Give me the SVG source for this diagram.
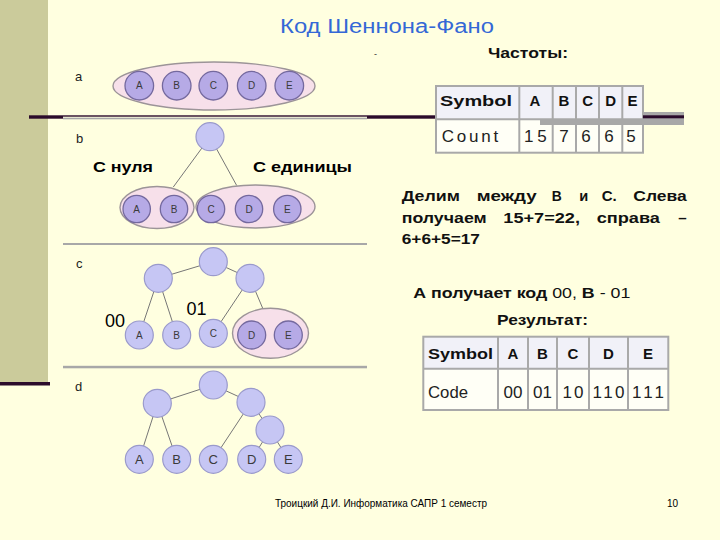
<svg xmlns="http://www.w3.org/2000/svg" width="720" height="540" viewBox="0 0 720 540">
<defs>
<style>
.bg{fill:#ffffe0}
.strip{fill:#cbcb9b}
.dark{fill:#2b0b2b}
.sep{fill:#a8a8a8}
.pink{fill:#f7e0ea;stroke:#9c9498;stroke-width:1.4}
.pnode{fill:#b6aae6;stroke:#74699e;stroke-width:1.3}
.lnode{fill:#c6c6f4;stroke:#9a9acb;stroke-width:1.2}
.edge{stroke:#777;stroke-width:1;fill:none}
.nl{font-family:"Liberation Sans",Arial,sans-serif;font-size:10px;fill:#3a3a3a;text-anchor:middle}
.nlb{font-family:"Liberation Sans",Arial,sans-serif;font-size:13px;fill:#3a3a3a;text-anchor:middle}
.sec{font-family:"Liberation Sans",Arial,sans-serif;font-size:13px;fill:#222}
.lbl{font-family:"Liberation Sans",Arial,sans-serif;font-size:15px;font-weight:bold;fill:#000}
.num{font-family:"Liberation Sans",Arial,sans-serif;font-size:18px;fill:#000}
.txt{font-family:"Liberation Sans",Arial,sans-serif;font-size:15px;font-weight:bold;fill:#111}
.th{font-family:"Liberation Sans",Arial,sans-serif;font-size:15px;font-weight:bold;fill:#111}
.td{font-family:"Liberation Sans",Arial,sans-serif;font-size:17px;fill:#222}
.cell{stroke:#a9a9a9;stroke-width:2}
.foot{font-family:"Liberation Sans",Arial,sans-serif;font-size:10px;fill:#000}
</style>
</defs>
<rect class="bg" x="0" y="0" width="720" height="540"/>
<rect class="strip" x="0" y="0" width="48" height="383"/>
<rect class="dark" x="0" y="382" width="50" height="3.5"/>

<!-- separators -->
<rect class="dark" x="29" y="115.3" width="407" height="3.4"/>
<rect class="bg" x="63" y="116.7" width="304" height="3"/>
<rect class="sep" x="63" y="117.7" width="304" height="1.6"/>
<rect class="sep" x="63" y="243" width="304" height="2"/>
<rect class="sep" x="63" y="365.8" width="304" height="2.5"/>

<!-- title -->
<text x="280" y="33" font-family="Liberation Sans, Arial, sans-serif" font-size="20" fill="#3468d6" textLength="214" lengthAdjust="spacingAndGlyphs">Код Шеннона-Фано</text>
<text x="374" y="57" font-family="Liberation Sans, Arial, sans-serif" font-size="9" fill="#333">-</text>

<!-- section labels -->
<text class="sec" x="75" y="81">a</text>
<text class="sec" x="76" y="143">b</text>
<text class="sec" x="76" y="268">c</text>
<text class="sec" x="75" y="391">d</text>

<!-- connectors -->
<g id="connectors">
<line class="edge" x1="210" y1="137" x2="173.3" y2="187"/>
<line class="edge" x1="210" y1="137" x2="236.7" y2="185.5"/>
<line class="edge" x1="213.3" y1="261.7" x2="158.3" y2="278.3"/>
<line class="edge" x1="213.3" y1="261.7" x2="250" y2="278.3"/>
<line class="edge" x1="158.3" y1="278.3" x2="139.3" y2="335"/>
<line class="edge" x1="158.3" y1="278.3" x2="176.7" y2="335"/>
<line class="edge" x1="250" y1="278.3" x2="213.3" y2="333.3"/>
<line class="edge" x1="250" y1="278.3" x2="263" y2="309"/>
<line class="edge" x1="213.3" y1="385" x2="157.3" y2="403.3"/>
<line class="edge" x1="213.3" y1="385" x2="251" y2="402.3"/>
<line class="edge" x1="157.3" y1="403.3" x2="139.3" y2="459.3"/>
<line class="edge" x1="157.3" y1="403.3" x2="176.7" y2="459.3"/>
<line class="edge" x1="251" y1="402.3" x2="213.3" y2="459.3"/>
<line class="edge" x1="251" y1="402.3" x2="270" y2="430"/>
<line class="edge" x1="270" y1="430" x2="251.7" y2="459.3"/>
<line class="edge" x1="270" y1="430" x2="288.3" y2="459.3"/>
</g>

<!-- section a -->
<g id="a-group"><ellipse class="pink" cx="214" cy="86" rx="101" ry="24"/></g>
<g id="a-A"><circle class="pnode" cx="139.3" cy="85.7" r="14.3"/><text class="nl" x="139.3" y="89.3">A</text></g>
<g id="a-B"><circle class="pnode" cx="176.7" cy="85.7" r="14.3"/><text class="nl" x="176.7" y="89.3">B</text></g>
<g id="a-C"><circle class="pnode" cx="213.3" cy="85.7" r="14.3"/><text class="nl" x="213.3" y="89.3">C</text></g>
<g id="a-D"><circle class="pnode" cx="251.7" cy="85.7" r="14.3"/><text class="nl" x="251.7" y="89.3">D</text></g>
<g id="a-E"><circle class="pnode" cx="289.3" cy="85.7" r="14.3"/><text class="nl" x="289.3" y="89.3">E</text></g>

<!-- section b -->
<g id="b-root"><circle class="lnode" cx="210" cy="136.7" r="14"/></g>
<g id="b-left"><ellipse class="pink" cx="157" cy="207.5" rx="37" ry="21"/></g>
<g id="b-right"><ellipse class="pink" cx="255.5" cy="206.5" rx="59.5" ry="21.5"/></g>
<g id="b-A"><circle class="pnode" cx="136.7" cy="209" r="13.7"/><text class="nl" x="136.7" y="212.6">A</text></g>
<g id="b-B"><circle class="pnode" cx="174" cy="209" r="13.7"/><text class="nl" x="174" y="212.6">B</text></g>
<g id="b-C"><circle class="pnode" cx="211" cy="209" r="13.7"/><text class="nl" x="211" y="212.6">C</text></g>
<g id="b-D"><circle class="pnode" cx="249" cy="209" r="13.7"/><text class="nl" x="249" y="212.6">D</text></g>
<g id="b-E"><circle class="pnode" cx="287.3" cy="209" r="13.7"/><text class="nl" x="287.3" y="212.6">E</text></g>
<text class="lbl" x="93" y="172" textLength="60" lengthAdjust="spacingAndGlyphs">С нуля</text>
<text class="lbl" x="253" y="172" textLength="99" lengthAdjust="spacingAndGlyphs">С единицы</text>

<!-- section c -->
<g id="c-root"><circle class="lnode" cx="213.3" cy="261.7" r="14"/></g>
<g id="c-left"><circle class="lnode" cx="158.3" cy="278.3" r="14"/></g>
<g id="c-right"><circle class="lnode" cx="250" cy="278.3" r="14"/></g>
<g id="c-DE"><ellipse class="pink" cx="270.5" cy="333.3" rx="38" ry="25"/></g>
<g id="c-A"><circle class="lnode" cx="139.3" cy="335" r="14"/><text class="nl" x="139.3" y="338.6">A</text></g>
<g id="c-B"><circle class="lnode" cx="176.7" cy="335" r="14"/><text class="nl" x="176.7" y="338.6">B</text></g>
<g id="c-C"><circle class="lnode" cx="213.3" cy="333.3" r="14"/><text class="nl" x="213.3" y="336.9">C</text></g>
<g id="c-D"><circle class="pnode" cx="251.7" cy="335" r="14"/><text class="nl" x="251.7" y="338.6">D</text></g>
<g id="c-E"><circle class="pnode" cx="288.3" cy="335" r="14"/><text class="nl" x="288.3" y="338.6">E</text></g>
<text class="num" x="105" y="327">00</text>
<text class="num" x="186.5" y="315">01</text>

<!-- section d -->
<g id="d-root"><circle class="lnode" cx="213.3" cy="385" r="14"/></g>
<g id="d-left"><circle class="lnode" cx="157.3" cy="403.3" r="14"/></g>
<g id="d-right"><circle class="lnode" cx="251" cy="402.3" r="14"/></g>
<g id="d-right2"><circle class="lnode" cx="270" cy="430" r="14"/></g>
<g id="d-A"><circle class="lnode" cx="139.3" cy="459.3" r="14"/><text class="nlb" x="139.3" y="464">A</text></g>
<g id="d-B"><circle class="lnode" cx="176.7" cy="459.3" r="14"/><text class="nlb" x="176.7" y="464">B</text></g>
<g id="d-C"><circle class="lnode" cx="213.3" cy="459.3" r="14"/><text class="nlb" x="213.3" y="464">C</text></g>
<g id="d-D"><circle class="lnode" cx="251.7" cy="459.3" r="14"/><text class="nlb" x="251.7" y="464">D</text></g>
<g id="d-E"><circle class="lnode" cx="288.3" cy="459.3" r="14"/><text class="nlb" x="288.3" y="464">E</text></g>

<!-- frequencies -->
<text class="txt" x="488" y="58" font-size="14" textLength="80" lengthAdjust="spacingAndGlyphs">Частоты:</text>
<g id="freq-table">
<rect x="436" y="86" width="207" height="33.3" fill="#f1f1f8"/>
<rect x="436" y="119.3" width="207" height="33.4" fill="#fffff6"/>
<rect class="cell" x="436" y="86" width="207" height="66.7" fill="none"/>
<line class="cell" x1="436" y1="119.3" x2="643" y2="119.3"/>
<line class="cell" x1="519.3" y1="86" x2="519.3" y2="152.7"/>
<line class="cell" x1="552.7" y1="86" x2="552.7" y2="152.7"/>
<line class="cell" x1="576" y1="86" x2="576" y2="152.7"/>
<line class="cell" x1="599" y1="86" x2="599" y2="152.7"/>
<line class="cell" x1="622.3" y1="86" x2="622.3" y2="152.7"/>
<text class="th" x="440" y="106" textLength="72" lengthAdjust="spacingAndGlyphs">Symbol</text>
<text class="th" x="535" y="106" text-anchor="middle">A</text>
<text class="th" x="564" y="106" text-anchor="middle">B</text>
<text class="th" x="587.7" y="106" text-anchor="middle">C</text>
<text class="th" x="610.7" y="106" text-anchor="middle">D</text>
<text class="th" x="632.5" y="106" text-anchor="middle">E</text>
<text class="td" x="441.7" y="141.5" textLength="56.5" lengthAdjust="spacing">Count</text>
<text class="td" x="524" y="141.5" textLength="22.7" lengthAdjust="spacing">15</text>
<text class="td" x="564" y="141.5" text-anchor="middle">7</text>
<text class="td" x="586" y="141.5" text-anchor="middle">6</text>
<text class="td" x="609" y="141.5" text-anchor="middle">6</text>
<text class="td" x="631" y="141.5" text-anchor="middle">5</text>
</g>
<rect class="sep" x="540" y="119.5" width="144" height="5.5"/>
<rect class="sep" x="643" y="112" width="41" height="13"/>
<rect class="dark" x="643" y="115.3" width="41" height="3"/>

<!-- explanation -->
<text class="txt" y="201">
<tspan x="401.7" textLength="58.3" lengthAdjust="spacingAndGlyphs">Делим</tspan>
<tspan x="476.7" textLength="60" lengthAdjust="spacingAndGlyphs">между</tspan>
<tspan x="551.7" textLength="10" lengthAdjust="spacingAndGlyphs">В</tspan>
<tspan x="579.3" textLength="9" lengthAdjust="spacingAndGlyphs">и</tspan>
<tspan x="601.7" textLength="15" lengthAdjust="spacingAndGlyphs">С.</tspan>
<tspan x="633.3" textLength="53.4" lengthAdjust="spacingAndGlyphs">Слева</tspan>
</text>
<text class="txt" y="222.5">
<tspan x="401.7" textLength="85" lengthAdjust="spacingAndGlyphs">получаем</tspan>
<tspan x="503.3" textLength="76.7" lengthAdjust="spacingAndGlyphs">15+7=22,</tspan>
<tspan x="596.7" textLength="63.3" lengthAdjust="spacingAndGlyphs">справа</tspan>
<tspan x="678.3" textLength="8.4" lengthAdjust="spacingAndGlyphs">–</tspan>
</text>
<text class="txt" x="401.7" y="244" textLength="78.3" lengthAdjust="spacingAndGlyphs">6+6+5=17</text>

<text class="txt" x="413.3" y="297.5" textLength="217" lengthAdjust="spacingAndGlyphs">А получает код <tspan font-weight="normal">00, </tspan>В<tspan font-weight="normal"> - 01</tspan></text>

<text class="txt" x="497" y="325" font-size="14" textLength="91" lengthAdjust="spacingAndGlyphs">Результат:</text>

<g id="code-table">
<rect x="423.3" y="336.7" width="245" height="32" fill="#f1f1f8"/>
<rect x="423.3" y="368.7" width="245" height="41.3" fill="#fffff6"/>
<rect class="cell" x="423.3" y="336.7" width="245" height="73.3" fill="none"/>
<line class="cell" x1="423.3" y1="368.7" x2="668.3" y2="368.7"/>
<line class="cell" x1="498" y1="336.7" x2="498" y2="410"/>
<line class="cell" x1="528" y1="336.7" x2="528" y2="410"/>
<line class="cell" x1="557" y1="336.7" x2="557" y2="410"/>
<line class="cell" x1="589" y1="336.7" x2="589" y2="410"/>
<line class="cell" x1="628" y1="336.7" x2="628" y2="410"/>
<text class="th" x="428" y="359" textLength="65" lengthAdjust="spacingAndGlyphs">Symbol</text>
<text class="th" x="513" y="359" text-anchor="middle">A</text>
<text class="th" x="542.5" y="359" text-anchor="middle">B</text>
<text class="th" x="573" y="359" text-anchor="middle">C</text>
<text class="th" x="608.5" y="359" text-anchor="middle">D</text>
<text class="th" x="648" y="359" text-anchor="middle">E</text>
<text class="td" x="428" y="398" textLength="40" lengthAdjust="spacingAndGlyphs">Code</text>
<text class="td" x="513" y="398" text-anchor="middle">00</text>
<text class="td" x="542.5" y="398" text-anchor="middle">01</text>
<text class="td" x="573" y="398" text-anchor="middle" textLength="21" lengthAdjust="spacing">10</text>
<text class="td" x="608.5" y="398" text-anchor="middle" textLength="32" lengthAdjust="spacing">110</text>
<text class="td" x="648" y="398" text-anchor="middle" textLength="32" lengthAdjust="spacing">111</text>
</g>

<!-- footer -->
<text class="foot" x="275" y="507" textLength="212" lengthAdjust="spacingAndGlyphs">Троицкий Д.И. Информатика САПР 1 семестр</text>
<text class="foot" x="667" y="507">10</text>
</svg>
